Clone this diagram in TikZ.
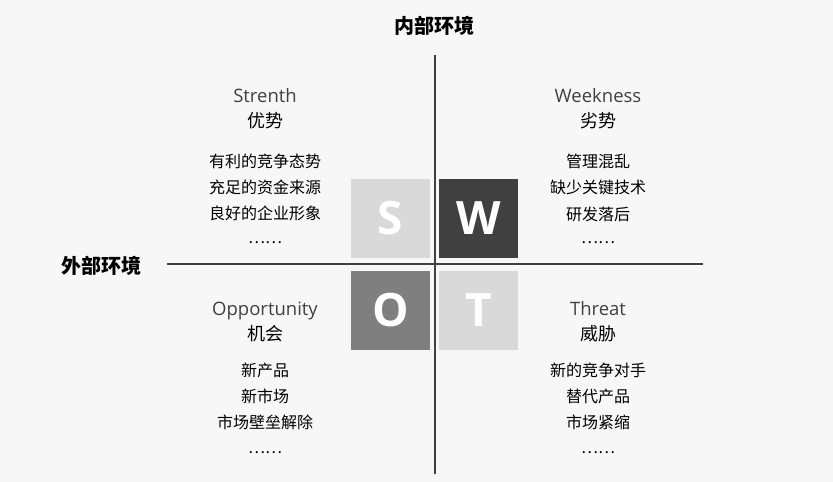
\documentclass[tikz,border=0pt]{standalone}
\usepackage{fontspec}
\setmainfont{Open Sans}
\newfontfamily\cjk{Noto Sans CJK SC}
\definecolor{bgc}{HTML}{F7F7F7}
\definecolor{dark}{HTML}{404040}
\definecolor{midg}{HTML}{7F7F7F}
\definecolor{lightg}{HTML}{D9D9D9}
\begin{document}
\begin{tikzpicture}[x=1pt,y=-1pt,
  sq/.style={minimum size=79pt,inner sep=0pt,text=white,font=\fontsize{46}{46}\selectfont\bfseries},
  eng/.style={text=dark,font=\fontsize{18.5}{20}\selectfont,inner sep=0pt},
  cn/.style={text=black,font=\cjk\fontsize{18}{20}\selectfont,inner sep=0pt},
  item/.style={text=black,font=\cjk\fontsize{16}{18}\selectfont,inner sep=0pt},
  axis/.style={text=black,font=\cjk\bfseries\fontsize{20}{22}\selectfont,inner sep=0pt},
  axline/.style={draw=dark,line width=2pt}]
\fill[bgc] (0,0) rectangle (833,482);
\useasboundingbox (0,0) rectangle (833,482);
% axes
\coordinate (vt) at (434.5,55);
\coordinate (vb) at (434.5,474);
\coordinate (hl) at (167,264);
\coordinate (hr) at (703,264);
\draw[axline] (vt) -- (vb);
\draw[axline] (hl) -- (hr);
\node[axis] (inner) at (434.5,26) {内部环境};
\node[axis] (outer) at (101,266) {外部环境};
% squares
\node[sq,fill=lightg] (S) at (390.5,218.5) {S};
\node[sq,fill=dark] (W) at (478.5,218.5) {W};
\node[sq,fill=midg] (O) at (390.5,310.5) {O};
\node[sq,fill=lightg] (T) at (478.5,310.5) {T};
% Strength
\node[eng] (s1) at (265,96) {Strenth};
\node[cn] (s2) at (265,121) {优势};
\node[item] (s3) at (265,161) {有利的竞争态势};
\node[item] (s4) at (265,187) {充足的资金来源};
\node[item] (s5) at (265,213) {良好的企业形象};
\node[item] (s6) at (265,243) {……};
% Weakness
\node[eng] (w1) at (598,96) {Weekness};
\node[cn] (w2) at (598,121) {劣势};
\node[item] (w3) at (598,161) {管理混乱};
\node[item] (w4) at (598,187) {缺少关键技术};
\node[item] (w5) at (598,214) {研发落后};
\node[item] (w6) at (598,243) {……};
% Opportunity
\node[eng] (o1) at (265,311) {Opportunity};
\node[cn] (o2) at (265,334) {机会};
\node[item] (o3) at (265,370) {新产品};
\node[item] (o4) at (265,396) {新市场};
\node[item] (o5) at (265,422) {市场壁垒解除};
\node[item] (o6) at (265,453) {……};
% Threat
\node[eng] (t1) at (598,309) {Threat};
\node[cn] (t2) at (598,334) {威胁};
\node[item] (t3) at (598,370) {新的竞争对手};
\node[item] (t4) at (598,396) {替代产品};
\node[item] (t5) at (598,422) {市场紧缩};
\node[item] (t6) at (598,453) {……};
\end{tikzpicture}
\end{document}
